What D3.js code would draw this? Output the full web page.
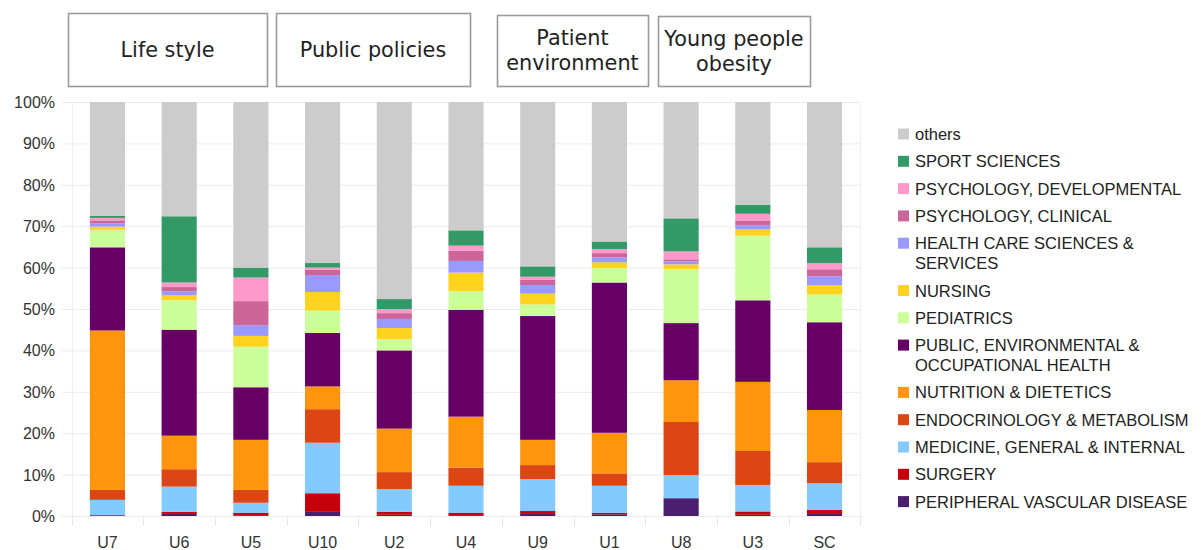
<!DOCTYPE html>
<html>
<head>
<meta charset="utf-8">
<script src="https://cdn.jsdelivr.net/npm/d3@7"></script>
<style>
  body { margin: 0; background: #fff; }
  svg { display: block; }
</style>
</head>
<body>
<script>
// units in drawing order (left to right)
var units = ["U7", "U6", "U5", "U10", "U2", "U4", "U9", "U1", "U8", "U3", "SC"];

// subject categories, bottom of the stack first
var subjects = [
  "PERIPHERAL VASCULAR DISEASE",
  "SURGERY",
  "MEDICINE, GENERAL & INTERNAL",
  "ENDOCRINOLOGY & METABOLISM",
  "NUTRITION & DIETETICS",
  "PUBLIC, ENVIRONMENTAL & OCCUPATIONAL HEALTH",
  "PEDIATRICS",
  "NURSING",
  "HEALTH CARE SCIENCES & SERVICES",
  "PSYCHOLOGY, CLINICAL",
  "PSYCHOLOGY, DEVELOPMENTAL",
  "SPORT SCIENCES",
  "others"
];

// share (%) per unit, same order as units
var peripheral  = [0.2, 0.5, 0.2, 1.0, 0.3, 0.2, 0.5, 0.4, 4.3, 0.3, 0.5];
var surgery     = [0.0, 0.5, 0.6, 4.5, 0.7, 0.6, 0.7, 0.4, 0.0, 0.8, 1.0];
var medicine    = [3.7, 6.1, 2.4, 12.2, 5.5, 6.5, 7.7, 6.5, 5.6, 6.4, 6.4];
var endocrin    = [2.4, 4.2, 3.1, 8.1, 4.1, 4.4, 3.4, 3.0, 12.8, 8.2, 5.1];
var nutrition   = [38.5, 8.1, 12.1, 5.5, 10.5, 12.3, 6.1, 9.8, 10.1, 16.7, 12.6];
var publicHealth= [20.1, 25.6, 12.7, 12.9, 18.9, 25.8, 29.9, 36.3, 13.8, 19.7, 21.2];
var pediatrics  = [4.2, 7.1, 9.8, 5.4, 2.7, 4.5, 2.8, 3.5, 13.0, 15.6, 6.7];
var nursing     = [0.8, 1.2, 2.6, 4.5, 2.7, 4.5, 2.6, 1.4, 1.2, 1.6, 2.3];
var healthCare  = [0.8, 1.0, 2.6, 4.1, 2.2, 2.8, 2.1, 1.2, 0.7, 1.0, 2.1];
var psyClinical = [0.7, 1.0, 5.8, 1.3, 1.4, 2.5, 1.3, 1.0, 0.5, 1.1, 1.7];
var psyDevelop  = [0.6, 1.1, 5.7, 0.5, 1.0, 1.2, 0.7, 1.0, 1.9, 1.6, 1.5];
var sport       = [0.5, 16.0, 2.4, 1.1, 2.4, 3.7, 2.5, 1.8, 8.0, 2.2, 3.8];
var others      = [27.5, 27.6, 40.0, 38.9, 47.6, 31.0, 39.7, 33.7, 28.1, 24.8, 35.1];

var series = [peripheral, surgery, medicine, endocrin, nutrition, publicHealth,
  pediatrics, nursing, healthCare, psyClinical, psyDevelop, sport, others];

var colors = ["#4b1f6f", "#c5000b", "#83caff", "#dc4614", "#ff950e", "#660066",
  "#ccff99", "#ffd320", "#9999ff", "#cc6699", "#ff99cc", "#339966", "#cccccc"];

// legend text lines (top to bottom)
var legendLines = [
  ["others"],
  ["SPORT SCIENCES"],
  ["PSYCHOLOGY, DEVELOPMENTAL"],
  ["PSYCHOLOGY, CLINICAL"],
  ["HEALTH CARE SCIENCES &", "SERVICES"],
  ["NURSING"],
  ["PEDIATRICS"],
  ["PUBLIC, ENVIRONMENTAL &", "OCCUPATIONAL HEALTH"],
  ["NUTRITION & DIETETICS"],
  ["ENDOCRINOLOGY & METABOLISM"],
  ["MEDICINE, GENERAL & INTERNAL"],
  ["SURGERY"],
  ["PERIPHERAL VASCULAR DISEASE"]
];

// group captions above the plot
var groupLines = [["Life style"], ["Public policies"], ["Patient", "environment"], ["Young people", "obesity"]];

var yTicks = [0, 10, 20, 30, 40, 50, 60, 70, 80, 90, 100];

// layout
var width = 1201, height = 550;
var boxes = [
  {x0: 68, x1: 267, y0: 13, y1: 86},
  {x0: 276, x1: 470, y0: 13, y1: 86},
  {x0: 497, x1: 648, y0: 15, y1: 86},
  {x0: 658, x1: 810, y0: 16, y1: 86}
];

var svg = d3.select("body").append("svg")
    .attr("width", width)
    .attr("height", height);

var table = units.map(function(u, i){
  var row = {unit: u};
  subjects.forEach(function(s, k){ row[s] = series[k][i]; });
  return row;
});

var x = d3.scaleBand()
    .domain(units)
    .range([71.6, 860.4])
    .paddingInner(0.51)
    .paddingOuter(0.255);

var y = d3.scaleLinear()
    .domain([0, 100])
    .range([516, 102]);

// grid
svg.append("g").selectAll("line")
    .data(yTicks).enter()
    .append("line")
    .attr("x1", 62)
    .attr("x2", 861)
    .attr("y1", function(d){ return y(d) + 0.5; })
    .attr("y2", function(d){ return y(d) + 0.5; })
    .attr("stroke", "#ebebeb")
    .attr("stroke-width", 1);

svg.append("line")
    .attr("x1", 72.5).attr("x2", 72.5)
    .attr("y1", y(100)).attr("y2", y(0))
    .attr("stroke", "#f0f0f0");
svg.append("line")
    .attr("x1", 860.5).attr("x2", 860.5)
    .attr("y1", y(100)).attr("y2", y(0))
    .attr("stroke", "#f0f0f0");

// category separators below the axis
var half = (x.step() - x.bandwidth()) / 2;
var seps = units.map(function(u){ return x(u) - half; });
seps.push(x(units[units.length - 1]) + x.bandwidth() + half);
svg.append("g").selectAll("line")
    .data(seps).enter()
    .append("line")
    .attr("x1", function(d){ return Math.round(d) + 0.5; })
    .attr("x2", function(d){ return Math.round(d) + 0.5; })
    .attr("y1", y(0))
    .attr("y2", y(0) + 10)
    .attr("stroke", "#e6e6e6");

// y labels
svg.append("g").selectAll("text")
    .data(yTicks).enter()
    .append("text")
    .attr("x", 55)
    .attr("y", function(d){ return y(d) + 6; })
    .attr("text-anchor", "end")
    .attr("font-family", "Liberation Sans, Arial, sans-serif")
    .attr("font-size", "16px")
    .attr("fill", "#333")
    .text(function(d){ return d + "%"; });

// bars
var stack = d3.stack().keys(subjects)(table);

svg.append("g").selectAll("g")
    .data(stack).enter()
    .append("g")
    .attr("fill", function(d, i){ return colors[i]; })
    .selectAll("rect")
    .data(function(d){ return d; }).enter()
    .append("rect")
    .attr("x", function(d){ return x(d.data.unit); })
    .attr("y", function(d){ return y(d[1]); })
    .attr("width", x.bandwidth())
    .attr("height", function(d){ return Math.max(0, y(d[0]) - y(d[1])); });

// x labels
svg.append("g").selectAll("text")
    .data(units).enter()
    .append("text")
    .attr("x", function(d){ return x(d) + x.bandwidth() / 2; })
    .attr("y", 548)
    .attr("text-anchor", "middle")
    .attr("font-family", "Liberation Sans, Arial, sans-serif")
    .attr("font-size", "16px")
    .attr("fill", "#333")
    .text(function(d){ return d; });

// group caption boxes
var grp = svg.append("g").selectAll("g")
    .data(boxes).enter()
    .append("g");

grp.append("rect")
    .attr("x", function(d){ return d.x0 + 0.5; })
    .attr("y", function(d){ return d.y0 + 0.5; })
    .attr("width", function(d){ return d.x1 - d.x0; })
    .attr("height", function(d){ return d.y1 - d.y0; })
    .attr("fill", "#fff")
    .attr("stroke", "#9a9a9a")
    .attr("stroke-width", 1.6);

grp.each(function(d, i){
  var lines = groupLines[i];
  var cy = (d.y0 + d.y1) / 2;
  var lh = 25;
  d3.select(this).selectAll("text")
    .data(lines).enter()
    .append("text")
    .attr("x", (d.x0 + d.x1) / 2)
    .attr("y", function(t, j){ return cy + 7 + (j - (lines.length - 1) / 2) * lh; })
    .attr("text-anchor", "middle")
    .attr("font-family", "DejaVu Sans, sans-serif")
    .attr("font-size", "20.8px")
    .attr("fill", "#222")
    .text(function(t){ return t; });
});

// legend
var legendColors = colors.slice().reverse();
var ly = 134;
legendLines.forEach(function(lines, i){
  var g = svg.append("g");
  g.append("rect")
    .attr("x", 898)
    .attr("y", ly - 5.5)
    .attr("width", 11)
    .attr("height", 11)
    .attr("fill", legendColors[i]);
  lines.forEach(function(t, j){
    g.append("text")
      .attr("x", 915)
      .attr("y", ly + 6 + j * 20)
      .attr("font-family", "Liberation Sans, Arial, sans-serif")
      .attr("font-size", "16.5px")
      .attr("fill", "#222")
      .text(t);
  });
  ly += 27.3 + (lines.length - 1) * 20;
});
</script>
</body>
</html>
